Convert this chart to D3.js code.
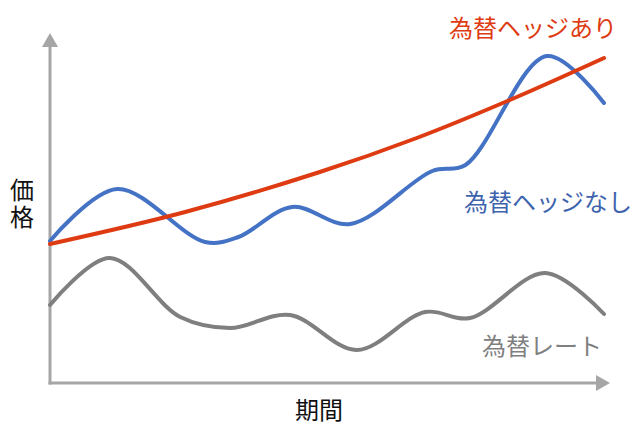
<!DOCTYPE html>
<html>
<head>
<meta charset="utf-8">
<script src="https://cdn.jsdelivr.net/npm/d3@7"></script>
<style>
  body { margin: 0; background: #fff; }
  svg { display: block; }
  text { font-family: "Noto Sans CJK JP", "Noto Sans", sans-serif; }
</style>
</head>
<body>
<svg class="chart" width="637" height="424"></svg>
<script>
// period positions (0-100) and price levels
const hedgedT = [0, 24.4, 48.7, 66.2, 83, 100];
const hedgedV = [139, 171, 211, 245, 283, 325];

const unhedgedT = [0, 12.1, 28, 34, 43.7, 54.2, 69, 75, 89.7, 100];
const unhedgedV = [142, 194, 141, 146, 176, 159, 212, 218, 327, 280];

const rateT = [0, 10.8, 23.5, 32.5, 43.3, 55.4, 67.7, 75.8, 89.4, 100];
const rateV = [78, 125, 66, 55, 68, 33, 71, 65, 110, 69];

const seriesNames = ['為替ヘッジあり', '為替ヘッジなし', '為替レート'];
const axisLabels = ['価格', '期間'];

const svg = d3.select('svg.chart');

const xScale = d3.scaleLinear().domain([0, 100]).range([50, 604]);
const yScale = d3.scaleLinear().domain([0, 350]).range([383, 33]);

const axisColor = '#a6a6a6';

// axes with arrow heads
const x0 = xScale(0), y0 = yScale(0);
svg.append('line')
  .attr('x1', x0).attr('y1', y0 + 1.5)
  .attr('x2', x0).attr('y2', yScale(336))
  .attr('stroke', axisColor).attr('stroke-width', 3);
svg.append('path')
  .attr('d', `M${x0 - 8},${yScale(336)} L${x0 + 8},${yScale(336)} L${x0},${yScale(350)} Z`)
  .attr('fill', axisColor);

svg.append('line')
  .attr('x1', x0 - 1.5).attr('y1', y0)
  .attr('x2', 596).attr('y2', y0)
  .attr('stroke', axisColor).attr('stroke-width', 3);
svg.append('path')
  .attr('d', `M596,${y0 - 8} L596,${y0 + 8} L610,${y0} Z`)
  .attr('fill', axisColor);

// lines
const line = d3.line()
  .x((d) => xScale(d[0]))
  .y((d) => yScale(d[1]))
  .curve(d3.curveCatmullRom.alpha(0.5));

const series = [
  { t: rateT, v: rateV, color: '#7f7f7f' },
  { t: unhedgedT, v: unhedgedV, color: '#4472c4' },
  { t: hedgedT, v: hedgedV, color: '#de3b12' }
];

series.forEach((s) => {
  svg.append('path')
    .datum(d3.zip(s.t, s.v))
    .attr('d', line)
    .attr('fill', 'none')
    .attr('stroke', s.color)
    .attr('stroke-width', 4)
    .attr('stroke-linecap', 'round');
});

// series labels
svg.append('text').attr('x', 449).attr('y', 37)
  .attr('font-size', 24).attr('fill', '#de3b12').text(seriesNames[0]);
svg.append('text').attr('x', 464).attr('y', 211)
  .attr('font-size', 24).attr('fill', '#3e63ad').text(seriesNames[1]);
svg.append('text').attr('x', 482).attr('y', 355)
  .attr('font-size', 24).attr('fill', '#808080').text(seriesNames[2]);

// axis labels
svg.append('text').attr('x', 22).attr('y', 178)
  .attr('writing-mode', 'vertical-rl')
  .attr('letter-spacing', 3)
  .attr('font-size', 24).attr('fill', '#111')
  .text(axisLabels[0]);
svg.append('text').attr('x', 319).attr('y', 419)
  .attr('text-anchor', 'middle').attr('font-size', 24).attr('fill', '#111')
  .text(axisLabels[1]);
</script>
</body>
</html>
